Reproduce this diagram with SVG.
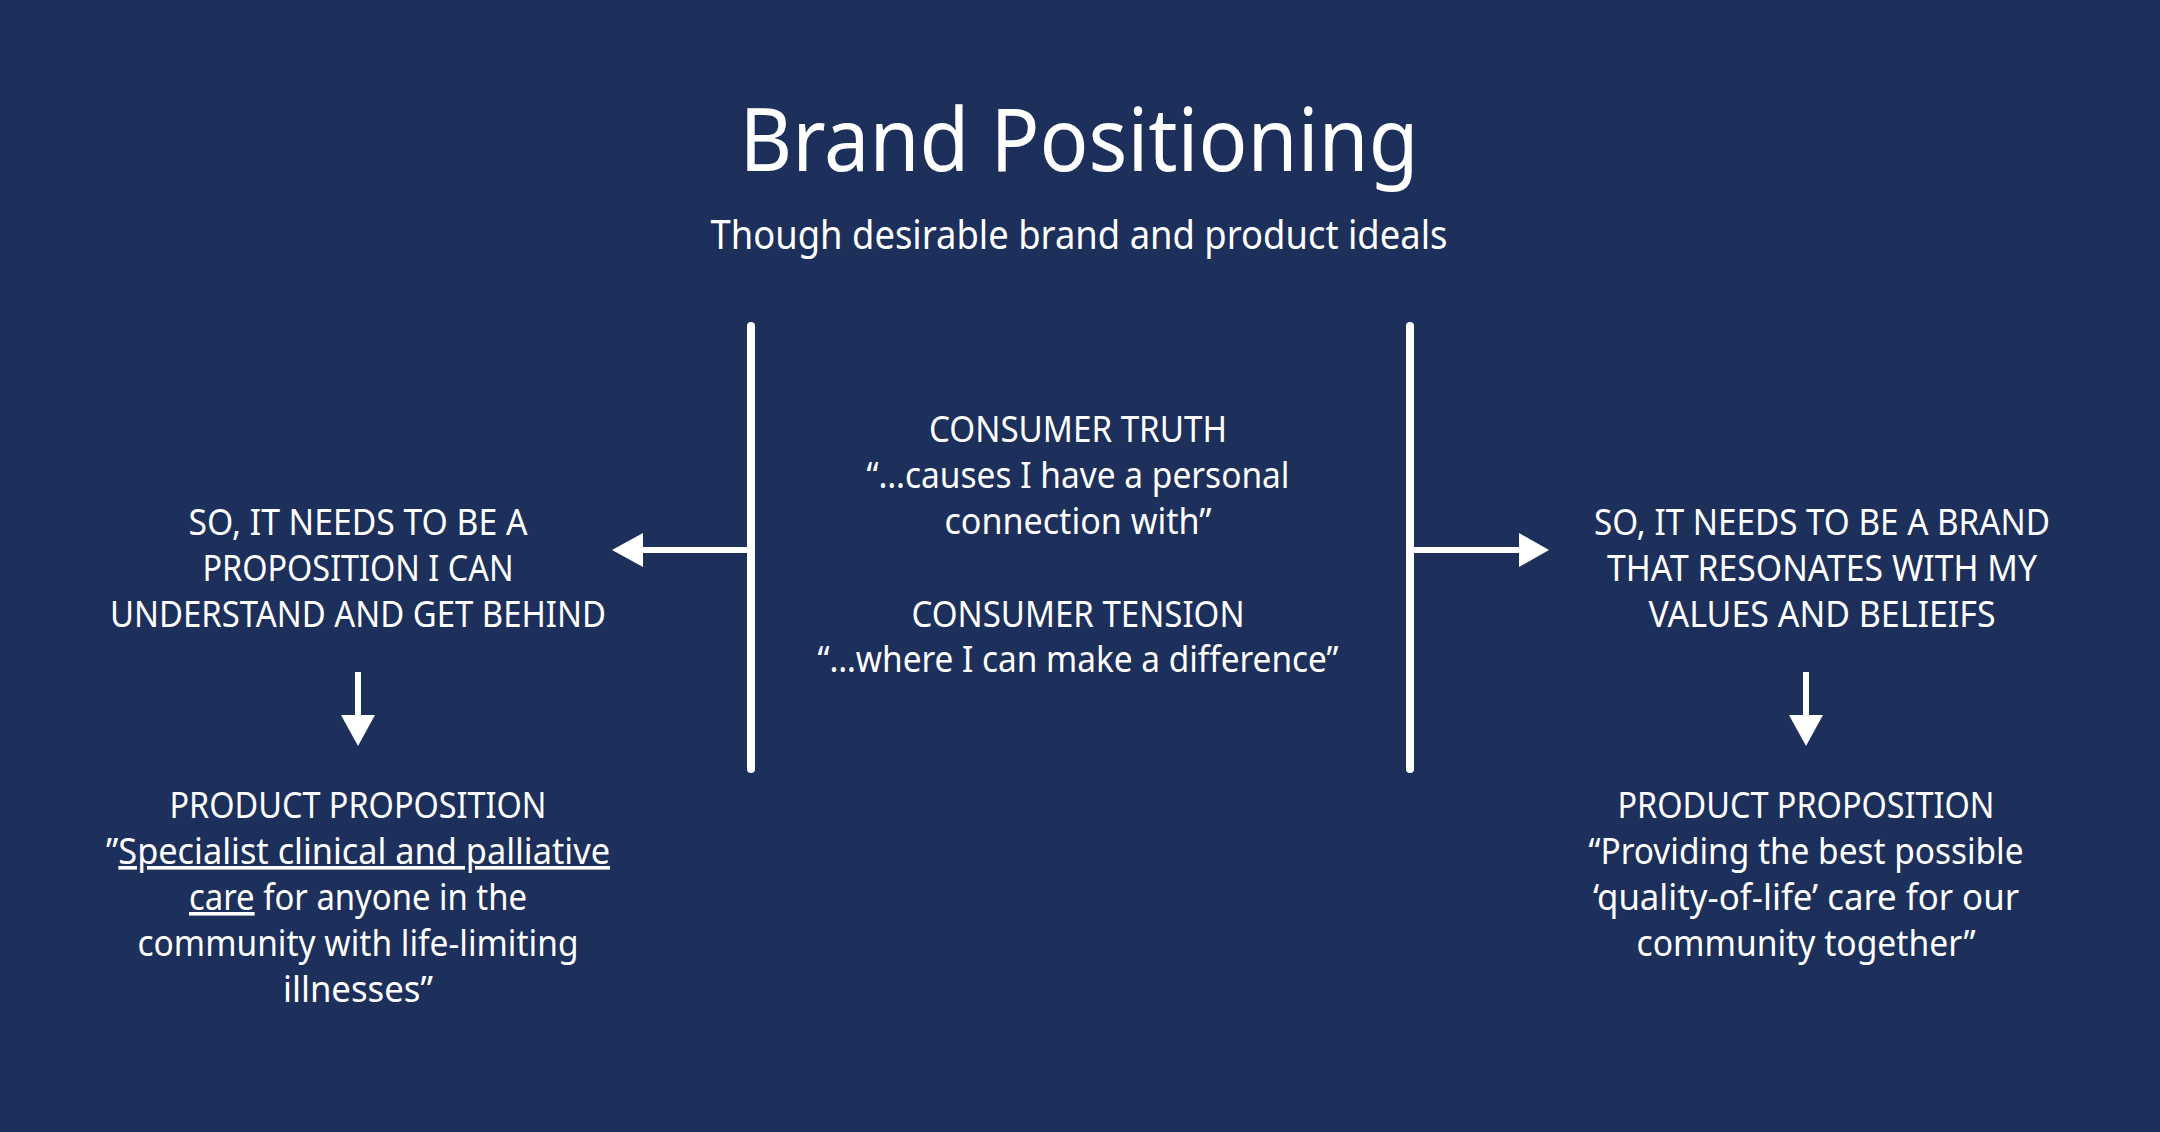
<svg xmlns="http://www.w3.org/2000/svg" width="2160" height="1132" viewBox="0 0 2160 1132">
  <style>
    .t { font-family: "Noto Sans", "Open Sans", sans-serif; fill: #ffffff; text-anchor: middle; }
    .title { font-size: 88px; }
    .sub { font-size: 40px; }
    .body { font-size: 36px; }
    .u { text-decoration: underline; }
    .bar { stroke: #ffffff; stroke-width: 8; stroke-linecap: round; fill: none; }
    .shaft { stroke: #ffffff; stroke-width: 6; fill: none; }
    .head { fill: #ffffff; }
  </style>
  <rect x="0" y="0" width="2160" height="1132" fill="#1d2f5b"/>

  <g id="title">
    <text class="t title" x="1079" y="171" textLength="679" lengthAdjust="spacingAndGlyphs">Brand Positioning</text>
    <text class="t sub" x="1079" y="249" textLength="737" lengthAdjust="spacingAndGlyphs">Though desirable brand and product ideals</text>
  </g>

  <g id="consumer">
    <text class="t body" x="1078" y="442" textLength="298" lengthAdjust="spacingAndGlyphs">CONSUMER TRUTH</text>
    <text class="t body" x="1078" y="488" textLength="423" lengthAdjust="spacingAndGlyphs">“…causes I have a personal</text>
    <text class="t body" x="1078" y="534" textLength="267" lengthAdjust="spacingAndGlyphs">connection with”</text>
    <text class="t body" x="1078" y="627" textLength="333" lengthAdjust="spacingAndGlyphs">CONSUMER TENSION</text>
    <text class="t body" x="1078" y="672" textLength="521" lengthAdjust="spacingAndGlyphs">“…where I can make a difference”</text>
  </g>

  <g id="left-need">
    <text class="t body" x="358" y="535" textLength="339" lengthAdjust="spacingAndGlyphs">SO, IT NEEDS TO BE A</text>
    <text class="t body" x="358" y="581" textLength="311" lengthAdjust="spacingAndGlyphs">PROPOSITION I CAN</text>
    <text class="t body" x="358" y="627" textLength="496" lengthAdjust="spacingAndGlyphs">UNDERSTAND AND GET BEHIND</text>
  </g>

  <g id="right-need">
    <text class="t body" x="1822" y="535" textLength="456" lengthAdjust="spacingAndGlyphs">SO, IT NEEDS TO BE A BRAND</text>
    <text class="t body" x="1822" y="581" textLength="430" lengthAdjust="spacingAndGlyphs">THAT RESONATES WITH MY</text>
    <text class="t body" x="1822" y="627" textLength="347" lengthAdjust="spacingAndGlyphs">VALUES AND BELIEIFS</text>
  </g>

  <g id="left-product">
    <text class="t body" x="358" y="818" textLength="377" lengthAdjust="spacingAndGlyphs">PRODUCT PROPOSITION</text>
    <text class="t body" x="358" y="864" textLength="504" lengthAdjust="spacingAndGlyphs">”<tspan class="u">Specialist clinical and palliative</tspan></text>
    <text class="t body" x="358" y="910" textLength="338" lengthAdjust="spacingAndGlyphs"><tspan class="u">care</tspan> for anyone in the</text>
    <text class="t body" x="358" y="956" textLength="441" lengthAdjust="spacingAndGlyphs">community with life-limiting</text>
    <text class="t body" x="358" y="1002" textLength="150" lengthAdjust="spacingAndGlyphs">illnesses”</text>
  </g>

  <g id="right-product">
    <text class="t body" x="1806" y="818" textLength="377" lengthAdjust="spacingAndGlyphs">PRODUCT PROPOSITION</text>
    <text class="t body" x="1806" y="864" textLength="435" lengthAdjust="spacingAndGlyphs">“Providing the best possible</text>
    <text class="t body" x="1806" y="910" textLength="426" lengthAdjust="spacingAndGlyphs">‘quality-of-life’ care for our</text>
    <text class="t body" x="1806" y="956" textLength="339" lengthAdjust="spacingAndGlyphs">community together”</text>
  </g>

  <g id="connectors">
    <line class="bar" x1="751" y1="326" x2="751" y2="769"/>
    <line class="bar" x1="1410" y1="326" x2="1410" y2="769"/>
    <line class="shaft" x1="751" y1="550" x2="640" y2="550"/>
    <polygon class="head" points="612,550 643,533 643,567"/>
    <line class="shaft" x1="1410" y1="550" x2="1522" y2="550"/>
    <polygon class="head" points="1549,550 1519,533 1519,567"/>
    <line class="shaft" x1="358" y1="672" x2="358" y2="718"/>
    <polygon class="head" points="358,746 341,715 375,715"/>
    <line class="shaft" x1="1806" y1="672" x2="1806" y2="718"/>
    <polygon class="head" points="1806,746 1789,715 1823,715"/>
  </g>
</svg>
